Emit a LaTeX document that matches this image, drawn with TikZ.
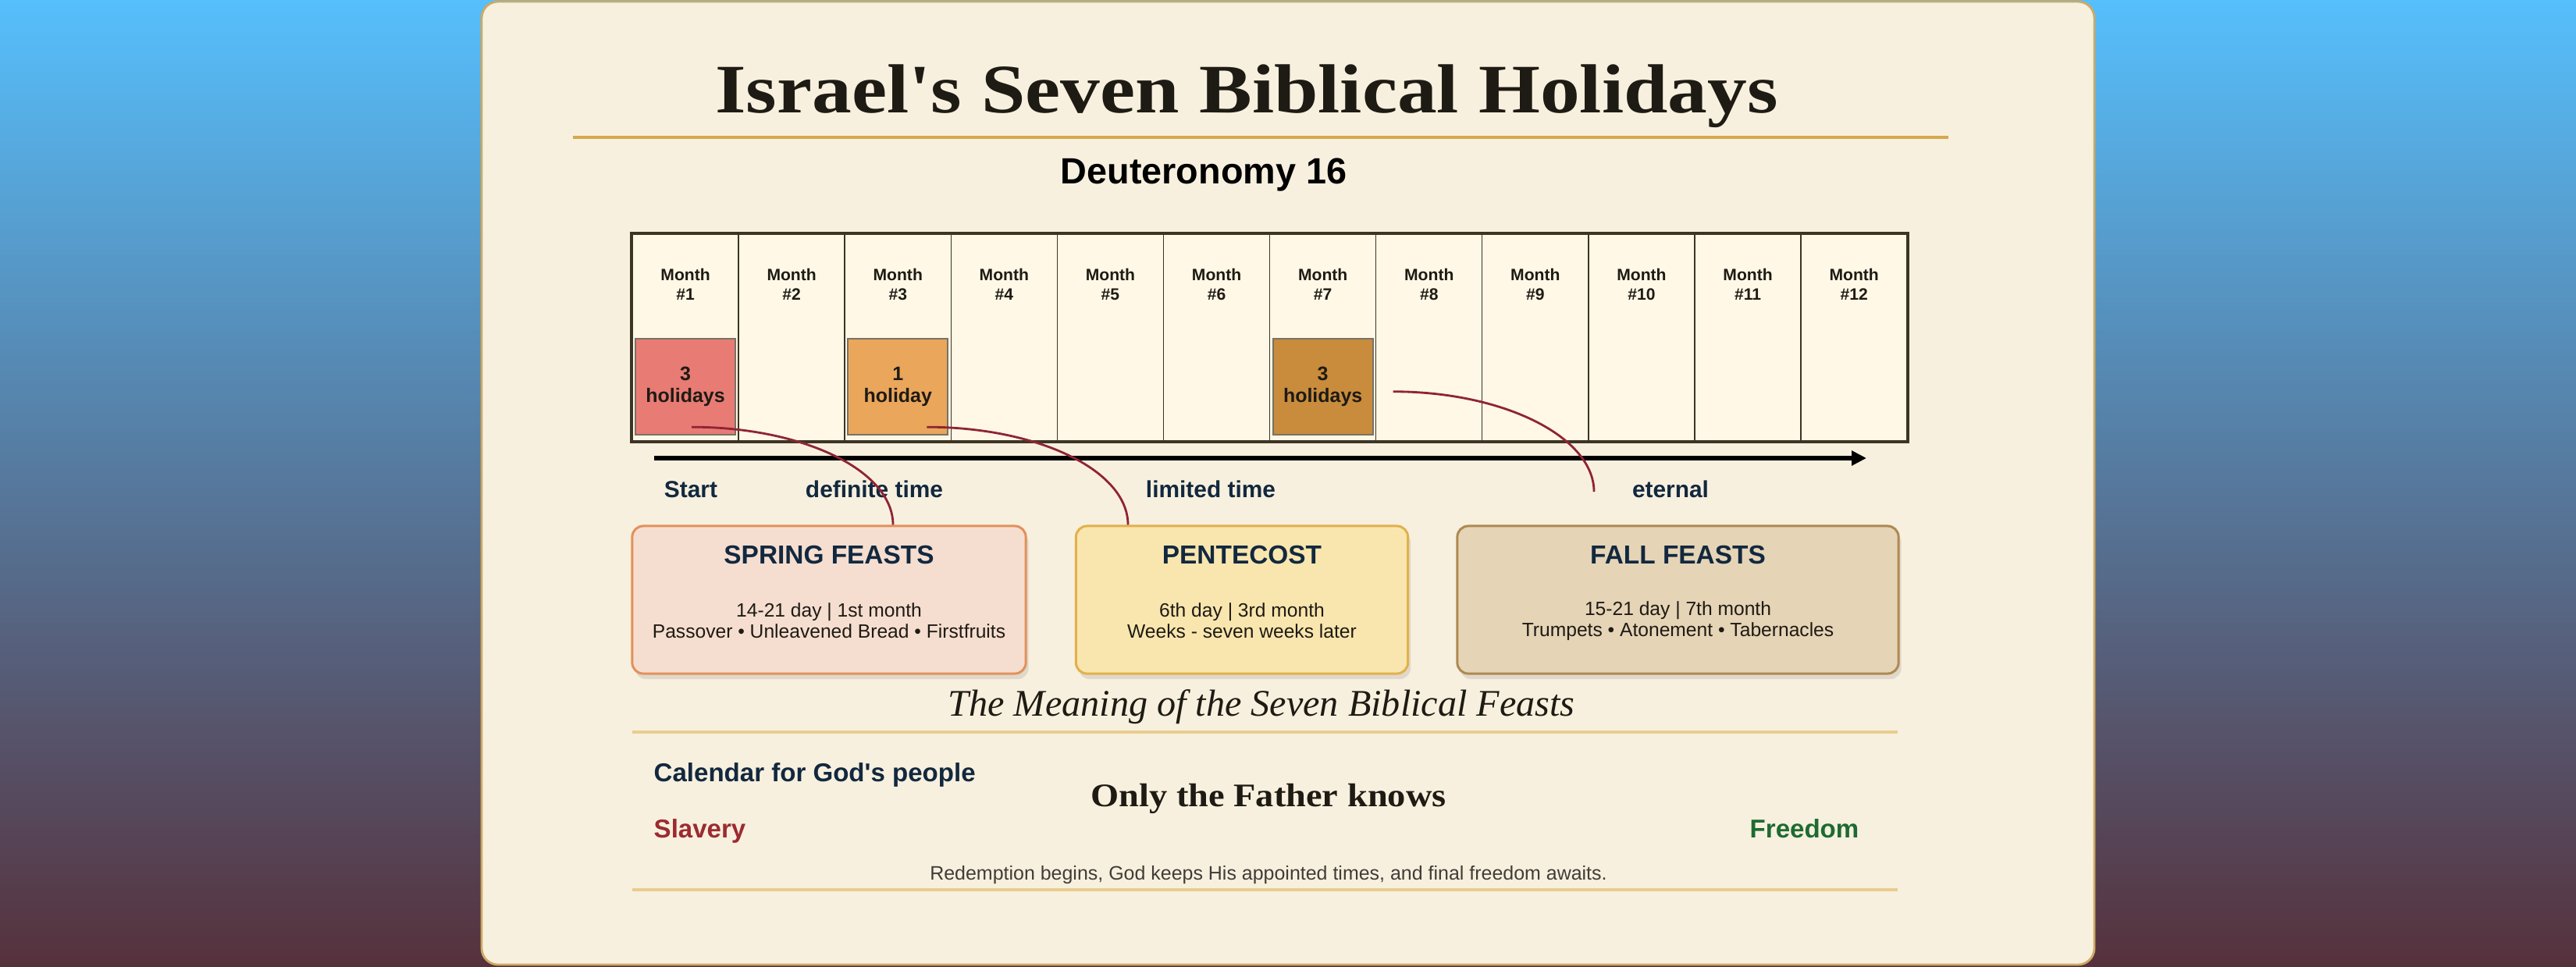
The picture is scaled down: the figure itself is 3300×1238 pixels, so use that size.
\documentclass[tikz,border=0pt]{standalone}
\usepackage{fontspec}
\setmainfont{Liberation Serif}
\setsansfont{Liberation Sans}
\usetikzlibrary{arrows.meta,shapes,shadows,positioning,calc}
\definecolor{skytop}{RGB}{86,191,252}
\definecolor{skymid}{RGB}{93,128,168}
\definecolor{skybot}{RGB}{86,49,60}
\definecolor{parch}{RGB}{248,240,222}
\definecolor{parchrim}{RGB}{205,170,100}
\definecolor{gold}{RGB}{212,168,76}
\definecolor{palegold}{RGB}{233,205,142}
\definecolor{cellbg}{RGB}{255,248,230}
\definecolor{ink}{RGB}{30,26,20}
\definecolor{navy}{RGB}{18,40,62}
\definecolor{grid}{RGB}{61,52,37}
\definecolor{wine}{RGB}{142,36,54}
\definecolor{mone}{RGB}{232,123,115}
\definecolor{mthree}{RGB}{234,167,91}
\definecolor{mseven}{RGB}{201,139,60}
\definecolor{springbg}{RGB}{245,221,207}
\definecolor{springrim}{RGB}{227,145,91}
\definecolor{pentbg}{RGB}{249,230,174}
\definecolor{pentrim}{RGB}{226,176,76}
\definecolor{fallbg}{RGB}{229,212,182}
\definecolor{fallrim}{RGB}{174,138,82}
\definecolor{slave}{RGB}{155,43,48}
\definecolor{free}{RGB}{30,107,50}
\tikzstyle{cell}=[draw=grid, line width=0.4pt, fill=cellbg, minimum width=1.361cm, minimum height=2.65cm, inner sep=0]
\tikzstyle{mon}=[font=\sffamily\bfseries\fontsize{6}{7.1}\selectfont, text=ink, align=center]
\tikzstyle{hol}=[draw=grid!70, line width=0.5pt, minimum width=1.28cm, minimum height=1.23cm, inner sep=0, align=center, text=ink, font=\sffamily\bfseries\fontsize{7.1}{8}\selectfont]
\tikzstyle{link}=[draw=wine, line width=0.8pt]
\tikzstyle{tline}=[-{Triangle[length=5.4pt,width=5.2pt]}, line width=1.45pt]
\tikzstyle{era}=[font=\sffamily\bfseries\fontsize{8.5}{10}\selectfont, text=navy]
\tikzstyle{feast}=[rounded corners=4pt, line width=0.85pt, minimum height=1.89cm, drop shadow={opacity=0.2,shadow xshift=1pt,shadow yshift=-2pt}]
\tikzstyle{fhead}=[font=\sffamily\bfseries\fontsize{9.5}{11}\selectfont, text=navy, anchor=base]
\tikzstyle{fbody}=[font=\sffamily\fontsize{7}{7.7}\selectfont, text=ink, align=center]
\tikzstyle{txt}=[inner sep=0, anchor=base]

\begin{document}
\begin{tikzpicture}[x=0.01cm,y=-0.01cm]
\useasboundingbox (0,0) rectangle (3300,1238);
\shade[top color=skytop, middle color=skymid, bottom color=skybot] (0,0) rectangle (3300,1238);
\draw[parchrim, fill=parch, line width=0.8pt, rounded corners=6pt] (617,2) rectangle (2683,1236);
% heading
\node[txt, font=\bfseries\fontsize{25.3}{30}\selectfont, text=ink] (T) at (1597,144) {\scalebox{1.14}[1]{Israel\textquotesingle s Seven Biblical Holidays}};
\draw[gold, line width=1.2pt] (734,176) -- (2496,176);
\node[txt, font=\sffamily\bfseries\fontsize{13.3}{15}\selectfont] (D) at (1542,235) {Deuteronomy 16};
% months
\foreach \i in {1,...,12}{
  \node[cell] (M\i) at ({810+136.1*(\i-0.5)},432.5) {};
  \node[mon] at ([shift={(0,65.5)}]M\i.north) {Month\\\#\i};
}
\draw[grid, line width=1.1pt] (M1.north west) rectangle (M12.south east);
\node[hol, fill=mone] (H1) at ([shift={(0,196.5)}]M1.north) {3\\holidays};
\node[hol, fill=mthree] (H3) at ([shift={(0,196.5)}]M3.north) {1\\holiday};
\node[hol, fill=mseven] (H7) at ([shift={(0,196.5)}]M7.north) {3\\holidays};
% time line
\coordinate (T0) at (838,587);
\coordinate (T1) at (2391,587);
\draw[tline] (T0) -- (T1);
\node[era] (L0) at (885,627) {Start};
\node[era] (L1) at (1120,627) {definite time};
\node[era] (L2) at (1551,627) {limited time};
\node[era] (L3) at (2140,627) {eternal};
% feasts
\node[feast, draw=springrim, fill=springbg, minimum width=5.04cm] (F1) at (1062,768.5) {};
\node[feast, draw=pentrim, fill=pentbg, minimum width=4.25cm] (F2) at (1591,768.5) {};
\node[feast, draw=fallrim, fill=fallbg, minimum width=5.65cm] (F3) at (2149.5,768.5) {};
\node[fhead] at ([shift={(0,50)}]F1.north) {SPRING FEASTS};
\node[fhead] at ([shift={(0,50)}]F2.north) {PENTECOST};
\node[fhead] at ([shift={(0,50)}]F3.north) {FALL FEASTS};
\node[fbody] at ([shift={(0,123)}]F1.north) {14-21 day | 1st month\\Passover • Unleavened Bread • Firstfruits};
\node[fbody] at ([shift={(0,123)}]F2.north) {6th day | 3rd month\\Weeks - seven weeks later};
\node[fbody] at ([shift={(0,123)}]F3.north) {15-21 day | 7th month\\Trumpets • Atonement • Tabernacles};
\coordinate (E3) at (2042,630);
\draw[link] ([shift={(8,-11)}]H1.south) .. controls +(142,0) and +(0,-70) .. ([shift={(82,0)}]F1.north);
\draw[link] ([shift={(37,-11)}]H3.south) .. controls +(142,0) and +(0,-70) .. ([shift={(-146,0)}]F2.north);
\draw[link] ([shift={(25,6)}]H7.east) .. controls +(142,0) and +(0,-70) .. (E3);
% meaning
\node[txt, font=\itshape\fontsize{13.7}{16}\selectfont, text=ink] (MT) at (1616,917) {The Meaning of the Seven Biblical Feasts};
\draw[palegold, line width=1pt] (810,938) -- (2431,938);
\node[txt, anchor=base west, font=\sffamily\bfseries\fontsize{9.4}{11}\selectfont, text=navy] (C) at (837,1001) {Calendar for God\textquotesingle s people};
\node[txt, font=\bfseries\fontsize{12}{14}\selectfont, text=ink] (O) at (1625,1033) {\scalebox{1.1}[1]{Only the Father knows}};
\node[txt, anchor=base west, font=\sffamily\bfseries\fontsize{9.4}{11}\selectfont, text=slave] (S) at (837,1073) {Slavery};
\node[txt, anchor=base east, font=\sffamily\bfseries\fontsize{9.4}{11}\selectfont, text=free] (R) at (2382,1073) {Freedom};
\node[txt, font=\sffamily\fontsize{7.1}{8}\selectfont, text=ink!85] (N) at (1625,1127) {Redemption begins, God keeps His appointed times, and final freedom awaits.};
\draw[palegold, line width=1pt] (810,1140) -- (2431,1140);
\end{tikzpicture}
\end{document}
